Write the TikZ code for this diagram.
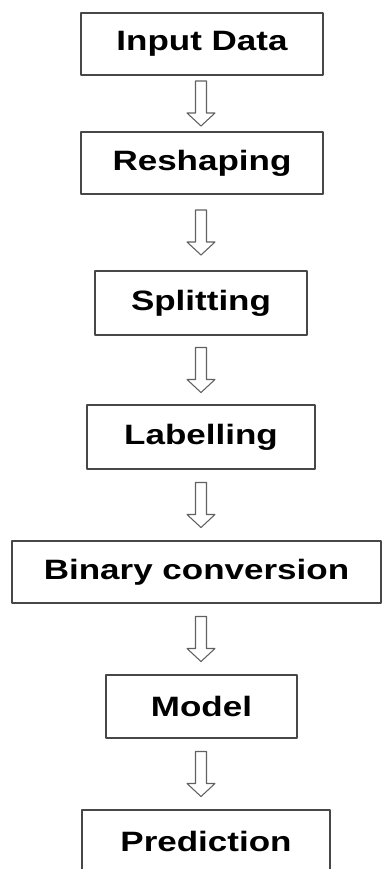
\documentclass[tikz,border=0pt]{standalone}
\usepackage{fontspec}
\setmainfont{Liberation Sans}[FakeStretch=1.25]
\usetikzlibrary{calc}
\begin{document}
\begin{tikzpicture}[x=0.75pt, y=-0.75pt, font=\bfseries\fontsize{21}{25}\selectfont, line join=round, line cap=round,
	box/.style={draw=black!72, line width=1.1pt, fill=white, inner sep=0pt},
	hollow/.style={draw=black!62, line width=0.8pt, fill=white}]
		\useasboundingbox (0,0) rectangle (382,869);
		\clip (0,0) rectangle (382,869);
		\path (201,0) coordinate (col);
		\foreach \n/\x/\y/\w/\h/\t in {inp/202/44/242/62/Input Data, resh/202/163/242/62/Reshaping, split/201/303/212/64/Splitting, lab/201/437/228/64/Labelling, bin/196.5/572/369/62/Binary conversion, mod/201.5/706.5/191/63/Model, pred/206/841/248/62/Prediction}{\node[box, minimum width=\w*0.75pt, minimum height=\h*0.75pt] (\n) at (\x,\y) {\t};}
		\foreach \a/\b in {inp/resh, resh/split, split/lab, lab/bin, bin/mod, mod/pred}{\path ($(\a.south)!0.5!(\b.north)$) coordinate (m);
			\draw[hollow] (col |- m) ++(-5.5,-22.5) -- ++(11,0) -- ++(0,32) -- ++(8.5,0) -- ++(-14,13) -- ++(-14,-13) -- ++(8.5,0) -- cycle;}
	\end{tikzpicture}
\end{document}
